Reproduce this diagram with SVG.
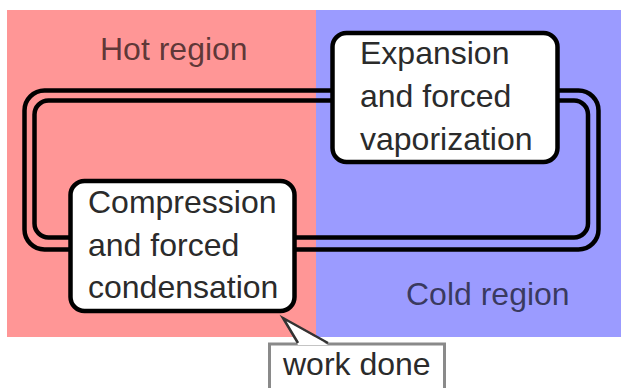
<svg xmlns="http://www.w3.org/2000/svg" width="621" height="388" viewBox="0 0 621 388">
<style>
.region{font-family:"Liberation Sans",Arial,sans-serif;font-size:32px;fill:#000;fill-opacity:0.65}
.lbl{font-family:"Liberation Sans",Arial,sans-serif;font-size:32px;fill:#2b2b2b}
.box{fill:#fff;stroke:#000;stroke-width:4.5}
.loop{fill:none;stroke:#000;stroke-width:4.5}
</style>
<rect x="0" y="0" width="621" height="388" fill="#fff"/>
<g id="hot-region">
<rect x="7" y="10" width="309" height="327" fill="#ff9696"/>
<text class="region" x="100" y="60">Hot region</text>
</g>
<g id="cold-region">
<rect x="316" y="10" width="305" height="327" fill="#9b9bff"/>
<text class="region" x="406" y="305">Cold region</text>
</g>
<g id="connectors">
<rect class="loop" x="24.5" y="90.5" width="574" height="159" rx="20"/>
<rect class="loop" x="34.5" y="100.5" width="553.5" height="137" rx="14"/>
</g>
<g id="expansion">
<rect class="box" x="332.5" y="33" width="225" height="129" rx="14"/>
<text class="lbl" x="360" y="64">Expansion</text>
<text class="lbl" x="360" y="107">and forced</text>
<text class="lbl" x="360" y="150">vaporization</text>
</g>
<g id="compression">
<rect class="box" x="70.5" y="181" width="224" height="130" rx="14"/>
<text class="lbl" x="88" y="213">Compression</text>
<text class="lbl" x="88" y="256">and forced</text>
<text class="lbl" x="88" y="298">condensation</text>
</g>
<g id="work-done">
<rect x="269.5" y="344" width="175" height="50" fill="#fff" stroke="#8a8a8a" stroke-width="3"/>
<polygon points="298,345 283,318 328,345" fill="#fff" stroke="none"/>
<polyline points="298,343 283,318 328,343" fill="none" stroke="#333" stroke-width="2.5"/>
<text class="lbl" x="283" y="375">work done</text>
</g>
</svg>
